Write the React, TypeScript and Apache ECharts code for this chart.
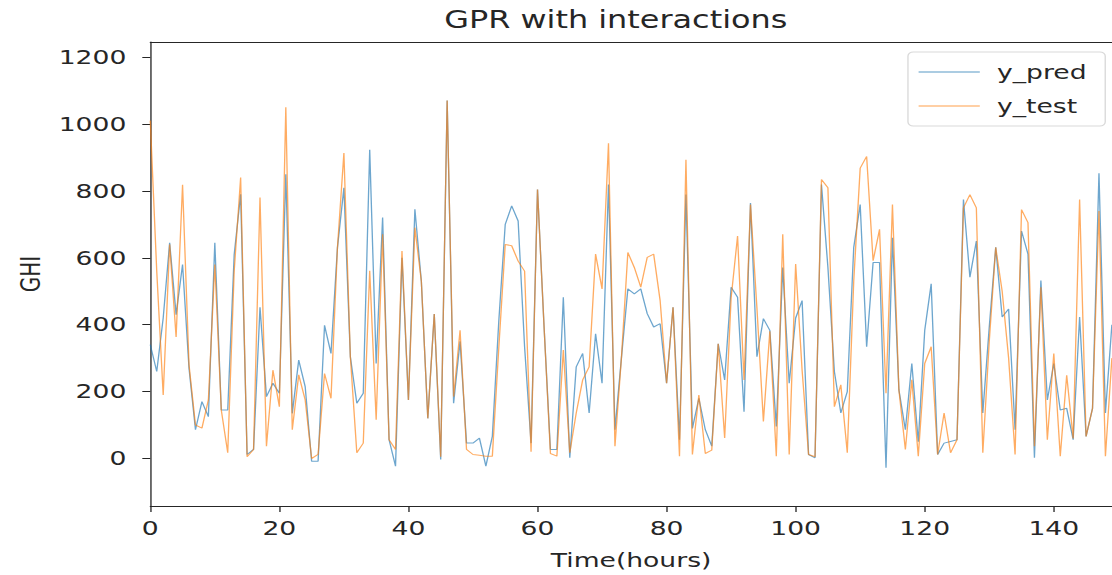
import React, { useEffect, useRef } from "react";
import * as echarts from "echarts";

// values (index = hour)
const yPred = [
  340, 260, 420, 645, 430, 580, 270, 86, 170, 125,
  645, 145, 145, 610, 790, 12, 27, 452, 185, 225,
  195, 850, 135, 294, 215, -8, -8, 398, 314, 630,
  809, 304, 165, 195, 923, 284, 720, 56, -23, 600,
  175, 745, 530, 120, 432, -3, 1070, 165, 350, 46,
  46, 61, -23, 66, 410, 700, 755, 710, 333, 46,
  804, 400, 27, 27, 482, 2, 274, 314, 136, 373,
  225, 819, 86, 300, 507, 492, 507, 433, 393, 403,
  225, 452, 56, 789, 90, 180, 86, 37, 343, 235,
  512, 482, 140, 764, 304, 418, 383, 96, 571, 225,
  420, 472, 12, 2, 819, 571, 260, 136, 200, 631,
  759, 334, 586, 586, -28, 660, 205, 86, 284, 50,
  383, 522, 12, 46, 51, 56, 774, 542, 650, 136,
  393, 631, 423, 447, 86, 680, 611, 2, 532, 175,
  284, 145, 150, 56, 423, 66, 150, 853, 136, 400,
];
const yTest = [
  1010, 560, 190, 640, 363, 818, 280, 100, 91, 175,
  580, 145, 17, 560, 840, 5, 27, 780, 37, 264,
  155, 1050, 86, 250, 175, 0, 12, 254, 180, 630,
  913, 304, 17, 46, 561, 116, 670, 56, 27, 620,
  175, 690, 530, 120, 432, 5, 1070, 185, 383, 27,
  12, 10, 7, 7, 330, 640, 636, 590, 560, 20,
  804, 400, 15, 7, 324, 17, 136, 235, 274, 611,
  507, 942, 37, 300, 616, 571, 512, 601, 611, 472,
  225, 452, 7, 893, 12, 190, 15, 25, 343, 61,
  480, 665, 235, 759, 450, 111, 380, 7, 670, 12,
  581, 264, 12, 5, 834, 809, 155, 220, 17, 530,
  868, 903, 591, 685, 195, 759, 205, 27, 235, 7,
  284, 334, 12, 136, 17, 56, 749, 789, 749, 17,
  350, 631, 500, 300, 12, 744, 705, 37, 512, 56,
  314, 7, 249, 60, 774, 66, 150, 740, 7, 300,
];
const xTicks = [0, 20, 40, 60, 80, 100, 120, 140];
const yTicks = [0, 200, 400, 600, 800, 1000, 1200];
const seriesNames = ["y_pred", "y_test"];
const titleText = "GPR with interactions";
const xName = "Time(hours)";
const yName = "GHI";

const STRETCH = 1.33;
const W = 836;
const H = 575;
const FONT = "DejaVu Sans";
const INK = "#262626";

export default function App() {
  const ref = useRef<HTMLDivElement>(null);
  useEffect(() => {
    if (!ref.current) return;
    const chart = echarts.init(ref.current, null, { renderer: "svg", width: W, height: H });
    const toPairs = (arr: number[]) => arr.map((v, i) => [i, v]);
    const axisLine = { show: true, onZero: false, lineStyle: { color: INK, width: 1 } };
    const plain = (v: number) => String(v);
    chart.setOption({
      animation: false,
      textStyle: { fontFamily: FONT },
      graphic: [
        {
          type: "text",
          x: 463,
          y: 8,
          style: {
            text: titleText,
            font: `24px '${FONT}'`,
            fill: INK,
            align: "center",
            verticalAlign: "top",
          },
        },
      ],
      grid: { left: 113, right: 0, top: 42, bottom: 69 },
      legend: {
        orient: "vertical",
        right: 5,
        top: 52,
        icon: "rect",
        itemWidth: 46,
        itemHeight: 1.5,
        itemGap: 14,
        padding: [10, 14, 10, 8],
        borderColor: "#d9d9d9",
        borderWidth: 1,
        borderRadius: 4,
        backgroundColor: "rgba(255,255,255,0.8)",
        itemStyle: { opacity: 0.5 },
        textStyle: { fontFamily: FONT, fontSize: 20, color: INK, padding: [0, 0, 0, 8] },
        data: seriesNames,
      },
      xAxis: [
        {
          type: "value",
          min: 0,
          max: 149,
          axisLine,
          axisTick: { show: true, length: 6, lineStyle: { color: INK }, customValues: xTicks },
          axisLabel: { customValues: xTicks, formatter: plain, fontSize: 20, color: INK, margin: 12, fontFamily: FONT },
          splitLine: { show: false },
          name: xName,
          nameLocation: "middle",
          nameGap: 44,
          nameTextStyle: { fontSize: 20, color: INK, fontFamily: FONT },
        },
        {
          type: "value",
          position: "top",
          min: 0,
          max: 149,
          axisLine,
          axisTick: { show: false },
          axisLabel: { show: false },
          splitLine: { show: false },
        },
      ],
      yAxis: {
        type: "value",
        min: -142,
        max: 1245,
        axisLine,
        axisTick: { show: true, length: 6, lineStyle: { color: INK }, customValues: yTicks },
        axisLabel: { customValues: yTicks, formatter: plain, fontSize: 20, color: INK, margin: 18, fontFamily: FONT },
        splitLine: { show: false },
        name: yName,
        nameLocation: "middle",
        nameGap: 80,
        nameTextStyle: { fontSize: 20, color: INK, fontFamily: FONT },
      },
      series: [
        {
          name: seriesNames[0],
          type: "line",
          data: toPairs(yPred),
          symbol: "none",
          lineStyle: { color: "#1f77b4", width: 1, opacity: 0.65 },
          itemStyle: { color: "#1f77b4" },
        },
        {
          name: seriesNames[1],
          type: "line",
          data: toPairs(yTest),
          symbol: "none",
          lineStyle: { color: "#ff7f0e", width: 1, opacity: 0.65 },
          itemStyle: { color: "#ff7f0e" },
        },
      ],
    });
    return () => chart.dispose();
  }, []);
  return (
    <div
      ref={ref}
      style={{
        position: "fixed",
        left: 0,
        top: 0,
        width: W,
        height: H,
        transform: `scaleX(${STRETCH})`,
        transformOrigin: "0 0",
        background: "#fff",
      }}
    />
  );
}
